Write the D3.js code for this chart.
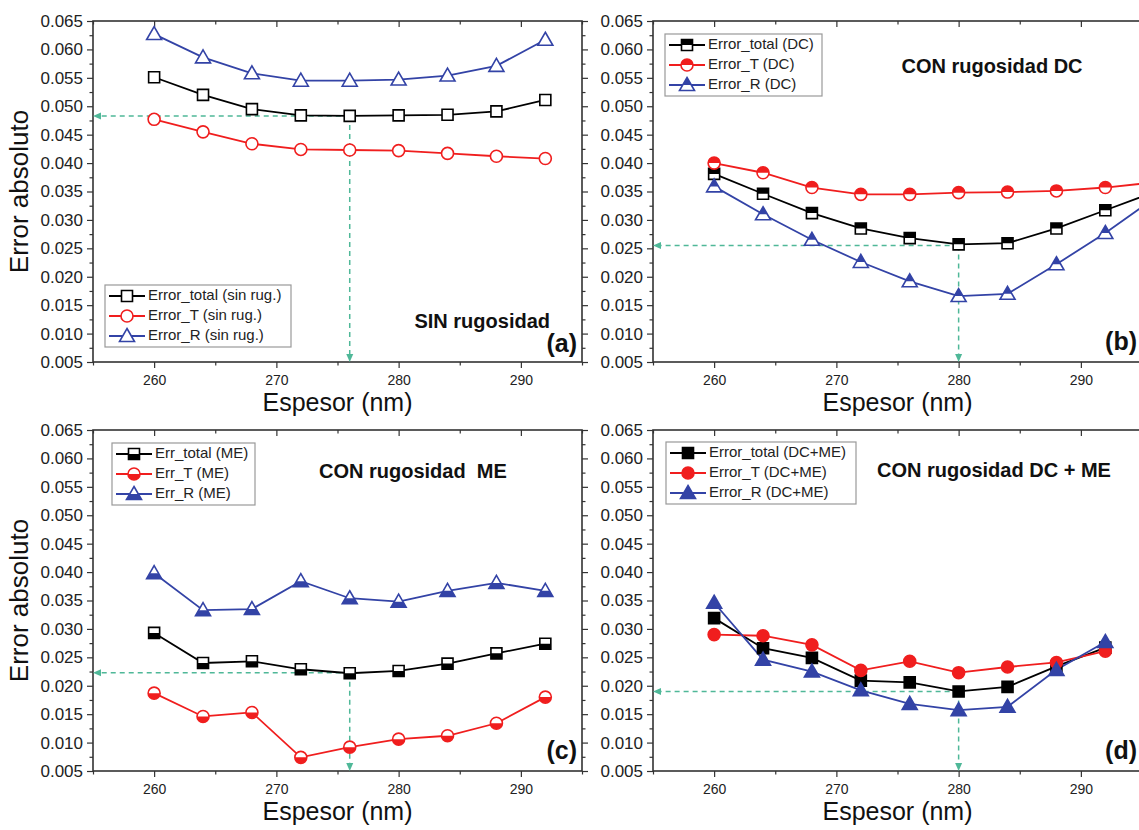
<!DOCTYPE html>
<html><head><meta charset="utf-8">
<script src="https://cdn.jsdelivr.net/npm/d3@7/dist/d3.min.js"></script>
<style>
body{margin:0;background:#fff;}
svg{display:block;font-family:"Liberation Sans",Arial,sans-serif;}
</style></head>
<body>
<svg id="chart" width="1139" height="830"></svg>
<script>
// ---------- DATA ----------
const espesor  = [260,264,268,272,276,280,284,288,292];
const espesorB = [260,264,268,272,276,280,284,288,292,296];

// (a) sin rugosidad
const aTotal = [0.0551,0.0520,0.0495,0.0484,0.0483,0.0484,0.0485,0.0491,0.0511];
const aT     = [0.0477,0.0455,0.0434,0.0424,0.0423,0.0422,0.0417,0.0412,0.0408];
const aR     = [0.0627,0.0586,0.0558,0.0545,0.0545,0.0547,0.0554,0.0571,0.0617];
// (b) con rugosidad DC
const bTotal = [0.0381,0.0346,0.0312,0.0285,0.0268,0.0257,0.0259,0.0285,0.0317,0.0349];
const bT     = [0.0400,0.0383,0.0357,0.0345,0.0345,0.0348,0.0349,0.0351,0.0357,0.0366];
const bR     = [0.0359,0.0310,0.0265,0.0226,0.0192,0.0166,0.0170,0.0222,0.0277,0.0338];
// (c) con rugosidad ME
const cTotal = [0.0293,0.0240,0.0243,0.0229,0.0222,0.0226,0.0239,0.0257,0.0274];
const cT     = [0.0187,0.0146,0.0153,0.0074,0.0092,0.0106,0.0112,0.0134,0.0180];
const cR     = [0.0398,0.0333,0.0335,0.0384,0.0354,0.0348,0.0367,0.0381,0.0367];
// (d) con rugosidad DC + ME
const dTotal = [0.0319,0.0266,0.0249,0.0209,0.0206,0.0190,0.0198,0.0234,0.0267];
const dT     = [0.0290,0.0288,0.0272,0.0227,0.0243,0.0223,0.0233,0.0241,0.0261];
const dR     = [0.0346,0.0246,0.0225,0.0192,0.0168,0.0157,0.0163,0.0228,0.0277];

// guide (optimum) points per panel
const guideX = [276, 280, 276, 280];
const guideY = [0.0483, 0.0255, 0.0223, 0.0190];

const legendA = ["Error_total (sin rug.)","Error_T (sin rug.)","Error_R (sin rug.)"];
const legendB = ["Error_total (DC)","Error_T (DC)","Error_R (DC)"];
const legendC = ["Err_total (ME)","Err_T (ME)","Err_R (ME)"];
const legendD = ["Error_total (DC+ME)","Error_T (DC+ME)","Error_R (DC+ME)"];

const titles = ["SIN rugosidad","CON rugosidad DC","CON rugosidad  ME","CON rugosidad DC + ME"];
const letters = ["(a)","(b)","(c)","(d)"];

const xDomain = [255, 295];
const yDomain = [0.005, 0.065];
const xTicks = [260,270,280,290];
const xMinor = [255,265,275,285,295];
const yTicks = [0.005,0.010,0.015,0.020,0.025,0.030,0.035,0.040,0.045,0.050,0.055,0.060,0.065];
const yMinor = [0.0075,0.0125,0.0175,0.0225,0.0275,0.0325,0.0375,0.0425,0.0475,0.0525,0.0575,0.0625];

// ---------- STYLE ----------
const COL = {total:"#000000", T:"#f01e1e", R:"#3343a6"};
const GREEN = "#4fb898";
const W = 489, H = 341;

const svg = d3.select("#chart");
const defs = svg.append("defs");
defs.append("clipPath").attr("id","topHalf").append("rect").attr("x",-20).attr("y",-20).attr("width",40).attr("height",20);
defs.append("clipPath").attr("id","botHalf").append("rect").attr("x",-20).attr("y",0).attr("width",40).attr("height",20);
defs.append("clipPath").attr("id","fullClip").append("rect").attr("x",-20).attr("y",-20).attr("width",40).attr("height",40);
["l","d"].forEach(k=>{
  const m = defs.append("marker").attr("id","arr"+k).attr("markerWidth",8).attr("markerHeight",8)
    .attr("refX",4).attr("refY",4).attr("orient", k==="l" ? 180 : 90).attr("markerUnits","userSpaceOnUse");
  m.append("path").attr("d","M0,0.5 L8,4 L0,7.5 Z").attr("fill",GREEN);
});

function shapePath(type){
  if(type==="square") return "M-5.5,-5.5 H5.5 V5.5 H-5.5 Z";
  if(type==="circle") return "M-6,0 A6,6 0 1,0 6,0 A6,6 0 1,0 -6,0 Z";
  return "M0,-7.5 L7.5,5.5 L-7.5,5.5 Z";
}

function drawMarker(g, cx, cy, type, color, fillMode){
  const m = g.append("g").attr("transform",`translate(${cx},${cy})`);
  const p = shapePath(type);
  m.append("path").attr("d",p).attr("fill","#fff");
  if(fillMode!=="open"){
    const clip = fillMode==="top" ? "url(#topHalf)" : fillMode==="bottom" ? "url(#botHalf)" : "url(#fullClip)";
    m.append("path").attr("d",p).attr("fill",color).attr("clip-path",clip);
  }
  m.append("path").attr("d",p).attr("fill","none").attr("stroke",color).attr("stroke-width",1.6);
}

const panels = [
  {left:93,  top:21,  xs:espesor,  series:[aTotal,aT,aR], fill:"open",   legend:legendA, leg:[12,264,186,62], yTitle:true,
   title:{x:550,y:323,anchor:"end"}, letter:{x:577,y:345}},
  {left:653, top:21,  xs:espesorB, series:[bTotal,bT,bR], fill:"top",    legend:legendB, leg:[12,13,157,62], yTitle:false,
   title:{x:992,y:68,anchor:"middle"}, letter:{x:1137,y:343}},
  {left:93,  top:430, xs:espesor,  series:[cTotal,cT,cR], fill:"bottom", legend:legendC, leg:[19,13,143,62], yTitle:true,
   title:{x:319,y:473,anchor:"start"}, letter:{x:577,y:752}},
  {left:653, top:430, xs:espesor,  series:[dTotal,dT,dR], fill:"full",   legend:legendD, leg:[13,12,190,62], yTitle:false,
   title:{x:877,y:472,anchor:"start"}, letter:{x:1137,y:752}},
];

const types = ["square","circle","triangle"];
const colors = [COL.total, COL.T, COL.R];

panels.forEach((P,pi)=>{
  const x = d3.scaleLinear().domain(xDomain).range([0,W]);
  const y = d3.scaleLinear().domain(yDomain).range([H,0]);
  const g = svg.append("g").attr("transform",`translate(${P.left},${P.top})`);

  const clipId = "plotClip"+pi;
  defs.append("clipPath").attr("id",clipId).append("rect").attr("x",-8).attr("y",-8).attr("width",W+16).attr("height",H+16);

  // axes
  const axL = g.append("g").call(d3.axisLeft(y).tickValues(yTicks).tickFormat(d3.format(".3f")).tickSize(6).tickPadding(4));
  g.append("g").call(d3.axisLeft(y).tickValues(yMinor).tickFormat("").tickSize(3.5));
  const axB = g.append("g").attr("transform",`translate(0,${H})`).call(d3.axisBottom(x).tickValues(xTicks).tickFormat(d3.format("d")).tickSize(6).tickPadding(7));
  g.append("g").attr("transform",`translate(0,${H})`).call(d3.axisBottom(x).tickValues(xMinor).tickFormat("").tickSize(3.5));
  g.append("g").call(d3.axisTop(x).tickValues(xTicks).tickFormat("").tickSize(-6));
  g.append("g").call(d3.axisTop(x).tickValues(xMinor).tickFormat("").tickSize(-3.5));
  g.append("g").attr("transform",`translate(${W},0)`).call(d3.axisRight(y).tickValues(yTicks).tickFormat("").tickSize(6));
  g.append("g").attr("transform",`translate(${W},0)`).call(d3.axisRight(y).tickValues(yMinor).tickFormat("").tickSize(3.5));
  g.selectAll(".domain").remove();
  g.selectAll(".tick line").attr("stroke","#333").attr("stroke-width",1.2);
  axL.selectAll("text").attr("font-size",17).attr("fill","#222").attr("font-family","Liberation Sans, Arial");
  axB.selectAll("text").attr("font-size",14).attr("fill","#222").attr("font-family","Liberation Sans, Arial");

  g.append("rect").attr("x",0).attr("y",0).attr("width",W).attr("height",H)
    .attr("fill","none").attr("stroke","#333").attr("stroke-width",1.6);

  // axis titles
  svg.append("text").attr("x",P.left+W/2).attr("y",P.top+H+42).attr("text-anchor","middle")
    .attr("dominant-baseline","middle").attr("font-size",25).attr("fill","#111").text("Espesor (nm)");
  if(P.yTitle){
    svg.append("text").attr("transform",`translate(21,${P.top+H/2}) rotate(-90)`).attr("text-anchor","middle")
      .attr("dominant-baseline","middle").attr("font-size",26).attr("fill","#111").text("Error absoluto");
  }

  // guide lines
  const gx = x(guideX[pi]), gy = y(guideY[pi]);
  g.append("line").attr("x1",gx).attr("y1",gy).attr("x2",4).attr("y2",gy)
    .attr("stroke",GREEN).attr("stroke-width",1.5).attr("stroke-dasharray","5,4").attr("marker-end","url(#arrl)");
  g.append("line").attr("x1",gx).attr("y1",gy).attr("x2",gx).attr("y2",H-4)
    .attr("stroke",GREEN).attr("stroke-width",1.5).attr("stroke-dasharray","5,4").attr("marker-end","url(#arrd)");

  // series
  const plot = g.append("g").attr("clip-path",`url(#${clipId})`);
  const line = d3.line().x(d=>x(d[0])).y(d=>y(d[1]));
  // draw lines in order R, total, T? keep legend order but lines below markers
  P.series.forEach((vals,si)=>{
    const pts = P.xs.map((xv,i)=>[xv,vals[i]]);
    plot.append("path").datum(pts).attr("d",line).attr("fill","none").attr("stroke",colors[si]).attr("stroke-width",1.8);
  });
  P.series.forEach((vals,si)=>{
    P.xs.forEach((xv,i)=>{
      drawMarker(plot, x(xv), y(vals[i]), types[si], colors[si], P.fill);
    });
  });

  // legend
  const [lx,ly,lw,lh] = P.leg;
  const lg = g.append("g").attr("transform",`translate(${lx},${ly})`);
  lg.append("rect").attr("width",lw).attr("height",lh).attr("fill","#fff").attr("stroke","#999").attr("stroke-width",1.2);
  P.legend.forEach((txt,si)=>{
    const ry = 11 + si*20;
    lg.append("line").attr("x1",4).attr("x2",40).attr("y1",ry).attr("y2",ry).attr("stroke",colors[si]).attr("stroke-width",1.8);
    drawMarker(lg, 22, ry, types[si], colors[si], P.fill);
    lg.append("text").attr("x",43).attr("y",ry).attr("dominant-baseline","middle").attr("font-size",15).attr("fill","#222").text(txt);
  });

  // annotations
  svg.append("text").attr("x",P.title.x).attr("y",P.title.y).attr("text-anchor",P.title.anchor)
    .attr("dominant-baseline","middle").attr("font-size",20).attr("font-weight","bold").attr("fill","#111")
    .style("white-space","pre").text(titles[pi]);
  svg.append("text").attr("x",P.letter.x).attr("y",P.letter.y).attr("text-anchor","end")
    .attr("dominant-baseline","middle").attr("font-size",25).attr("font-weight","bold").attr("fill","#111").text(letters[pi]);
});
</script>
</body></html>
